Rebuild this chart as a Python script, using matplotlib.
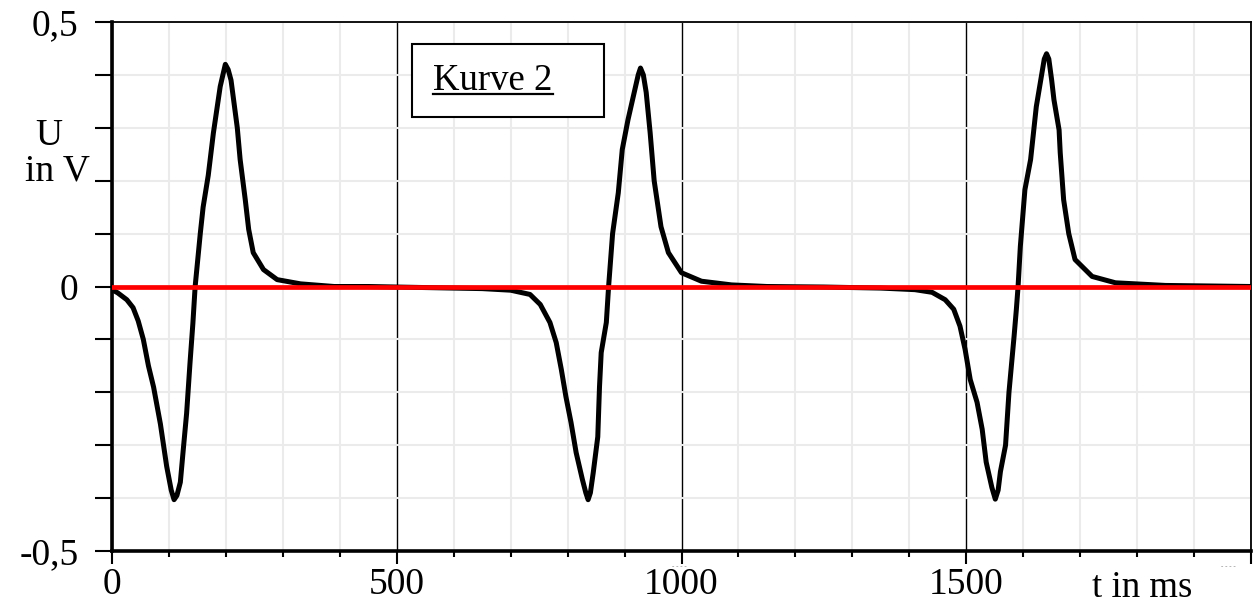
import matplotlib
matplotlib.use("Agg")
import matplotlib.pyplot as plt
from matplotlib.patches import Rectangle
from matplotlib.lines import Line2D

plt.rcParams['font.family'] = ['Liberation Serif', 'DejaVu Serif']

# ---- data ----
t_ms = [0, 10, 26, 37, 46, 55, 64, 73, 85, 96, 104, 109, 114, 120, 125, 131, 137, 142, 146,
        155, 160, 169, 178, 190, 199, 204, 209, 220, 225, 234, 240, 248, 266, 290, 331, 390,
        450, 550, 650, 700, 734, 752, 769, 780, 789, 797, 806, 815, 826, 832, 836, 840, 845,
        853, 856, 859, 868, 872, 879, 889, 896, 906, 917, 924, 928, 933, 938, 945, 952, 964,
        977, 1000, 1035, 1088, 1150, 1250, 1350, 1410, 1440, 1463, 1478, 1489, 1498, 1507,
        1519, 1528, 1535, 1545, 1551, 1556, 1560, 1569, 1575, 1584, 1588, 1591, 1595, 1603,
        1613, 1619, 1623, 1630, 1637, 1641, 1645, 1650, 1654, 1663, 1665, 1671, 1680, 1691,
        1721, 1762, 1850, 2000]
u_kurve2 = [-0.006, -0.012, -0.025, -0.04, -0.065, -0.10, -0.15, -0.19, -0.26, -0.34, -0.385,
            -0.403, -0.395, -0.37, -0.31, -0.24, -0.144, -0.07, 0.0,
            0.10, 0.15, 0.21, 0.29, 0.378, 0.42, 0.41, 0.39, 0.30, 0.24, 0.164, 0.108, 0.064,
            0.032, 0.013, 0.005, 0.0,
            0.0, -0.002, -0.004, -0.007, -0.015, -0.034, -0.068, -0.106, -0.157, -0.208, -0.257,
            -0.314, -0.365, -0.39, -0.403, -0.39, -0.352,
            -0.284, -0.19, -0.125, -0.068, 0.0, 0.10, 0.177, 0.259, 0.315, 0.367, 0.40, 0.413,
            0.40, 0.367, 0.29, 0.20, 0.113,
            0.064, 0.026, 0.01, 0.003, 0.0, -0.001, -0.003, -0.006, -0.011, -0.025, -0.043,
            -0.075, -0.119, -0.176,
            -0.219, -0.27, -0.332, -0.38, -0.402, -0.385, -0.35, -0.30, -0.20, -0.094, -0.043,
            0.0, 0.076, 0.183,
            0.24, 0.30, 0.34, 0.385, 0.43, 0.44, 0.43, 0.39, 0.353, 0.296, 0.253, 0.164, 0.10,
            0.051, 0.019, 0.007, 0.002, 0.0]
red_t = [0, 2000]
red_u = [0.0, 0.0]

x_major = [0, 500, 1000, 1500, 2000]
x_labels = ["0", "500", "1000", "1500", ""]
y_major = [-0.5, 0.0, 0.5]
y_labels = ["-0,5", "0", "0,5"]

W, H = 1257, 607
fig = plt.figure(figsize=(W / 100, H / 100), dpi=100)
ax = fig.add_axes([112 / W, 1 - 551 / H, (1251 - 112) / W, (551 - 22) / H])

ax.set_xlim(0, 2000)
ax.set_ylim(-0.5, 0.5)

ax.set_xticks(x_major)
ax.set_xticklabels(x_labels)
ax.set_xticks([v for v in range(0, 2001, 100) if v % 500 != 0], minor=True)
ax.set_yticks(y_major)
ax.set_yticklabels(y_labels)
ax.set_yticks([-0.4, -0.3, -0.2, -0.1, 0.1, 0.2, 0.3, 0.4], minor=True)

ax.grid(which='minor', axis='both', color='#ebebeb', lw=1.5, zorder=0)
ax.grid(which='major', axis='y', color='#ebebeb', lw=1.5, zorder=0)
ax.grid(which='major', axis='x', color='black', lw=1.0, zorder=0.5)
ax.set_axisbelow(True)

ax.tick_params(axis='x', which='major', direction='out', length=9, width=1.5, pad=3,
               labelsize=27)
ax.tick_params(axis='x', which='minor', direction='out', length=4, width=1.5)
ax.tick_params(axis='y', which='both', direction='out', length=12, width=1.5, pad=12,
               labelsize=27)

for s in ['left', 'bottom']:
    ax.spines[s].set_linewidth(2.6)
for s in ['top', 'right']:
    ax.spines[s].set_linewidth(1.3)

ax.plot(t_ms, u_kurve2, color='black', lw=3.6, solid_joinstyle='round', zorder=3)
ax.plot(red_t, red_u, color='#ff0000', lw=3.4, zorder=4)

# legend-like box "Kurve 2"
ax.add_patch(Rectangle(((412 - 112) / (1251 - 112), 1 - (117 - 22) / 529),
                       (604 - 412) / (1251 - 112), (117 - 44) / 529,
                       transform=ax.transAxes, facecolor='white', edgecolor='black',
                       lw=1.5, zorder=5))
fig.text(433 / W, 1 - 90 / H, "Kurve 2", fontsize=26.5, ha='left', va='baseline', zorder=6)
fig.add_artist(Line2D([433 / W, 553 / W], [1 - 93.5 / H, 1 - 93.5 / H], color='black', lw=1.6))

# axis labels
fig.text(49 / W, 1 - 136 / H, "U", fontsize=27, ha='center', va='center')
fig.text(57 / W, 1 - 171 / H, "in V", fontsize=27, ha='center', va='center')
fig.text(1142 / W, 1 - 588 / H, "t in ms", fontsize=26.5, ha='center', va='center')

# faint leftover marks
fig.text(679 / W, 1 - 567 / H, "- - - -", fontsize=5, color='#666666', ha='center', va='center')
fig.text(1228 / W, 1 - 567 / H, "- - - -", fontsize=5, color='#666666', ha='center', va='center')

fig.savefig("out.png", dpi=100)
